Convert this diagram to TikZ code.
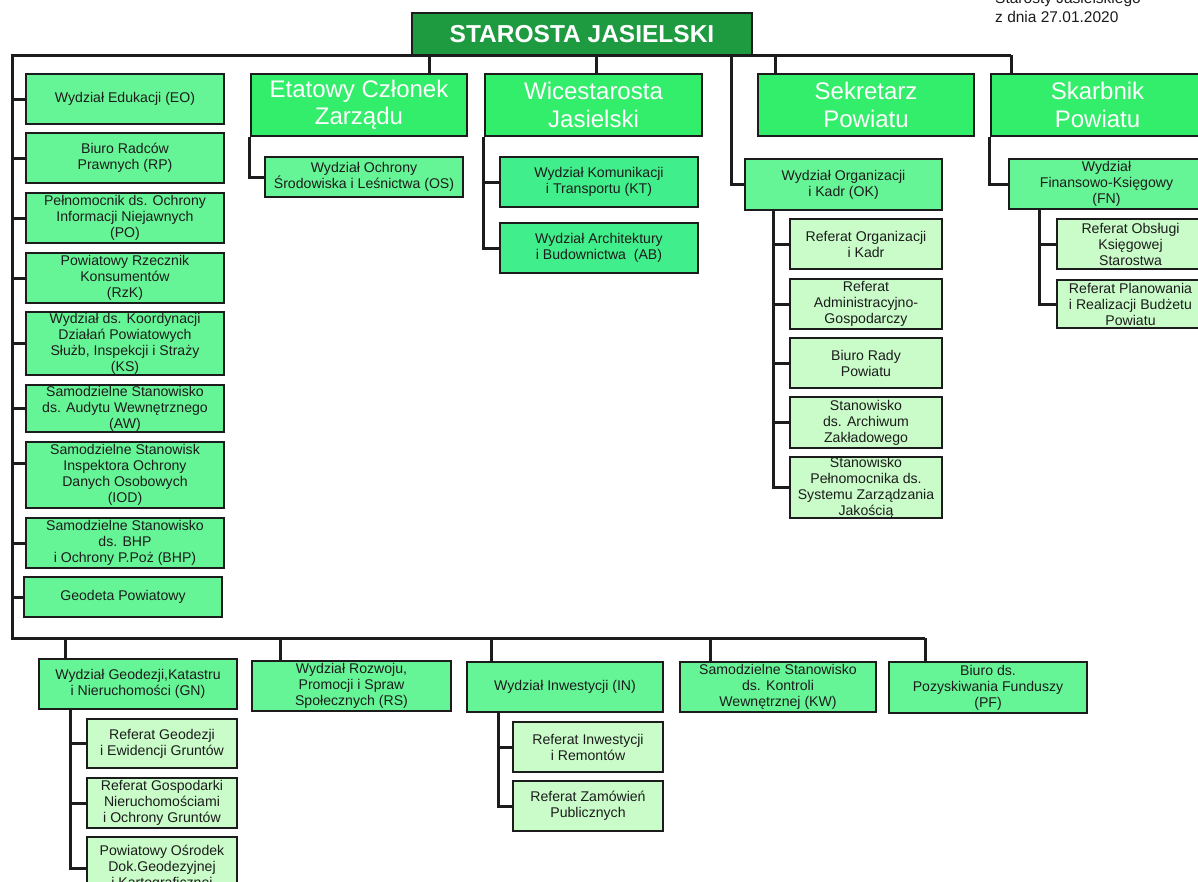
\documentclass[tikz,border=0pt]{standalone}
\usepackage{fontspec}
\setmainfont{Liberation Sans}
\pgfdeclarelayer{background}
\pgfdeclarelayer{paper}
\pgfsetlayers{paper,background,main}
\definecolor{chiefg}{HTML}{1E9A40}
\definecolor{headg}{HTML}{33EE6B}
\definecolor{midg}{HTML}{66F596}
\definecolor{tealg}{HTML}{40EE8C}
\definecolor{liteg}{HTML}{C9FCC9}
\definecolor{ink}{HTML}{1C1C1C}
\newcommand\bx[7]{\node[#2, minimum width={(#5-#3)*1pt}, minimum height={(#6-#4)*1pt}] (#1) at ({(#3+#5)/2},{(#4+#6)/2}) {#7};}
\begin{document}
\begin{tikzpicture}[x=1pt,y=-1pt,
  box/.style={draw=ink, line width=2.6pt, inner sep=0pt, align=center, text=ink, font=\fontsize{14.1}{16}\selectfont},
  mid/.style={box, fill=midg},
  lite/.style={box, fill=liteg},
  teal/.style={box, fill=tealg},
  head/.style={box, fill=headg, text=white, font=\fontsize{24}{27.5}\selectfont},
  chief/.style={box, fill=chiefg, text=white, font=\bfseries\fontsize{24.5}{28}\selectfont},
  conn/.style={draw=ink, line width=3pt, line join=miter},
  note/.style={anchor=base west, inner sep=0pt, text=ink, font=\fontsize{15.5}{18}\selectfont}]
\useasboundingbox (0,0) rectangle (1198,881);
\begin{pgfonlayer}{paper}
\fill[white] (0,0) rectangle (1198,881);
\end{pgfonlayer}

% note
\node[note] (n1) at (995,3) {Starosty Jasielskiego};
\node[note] (n2) at (995,22) {z dnia 27.01.2020};

% chief and heads
\bx{star}{chief}{412}{13}{752}{55}{STAROSTA JASIELSKI}
\bx{etat}{head}{251}{74}{467}{136}{Etatowy Członek\\Zarządu}
\bx{wice}{head}{485}{74}{702}{136}{Wicestarosta\\Jasielski}
\bx{sek}{head}{758}{74}{974}{136}{Sekretarz\\Powiatu}
\bx{skarb}{head}{991}{74}{1204}{136}{Skarbnik\\Powiatu}

% left column
\bx{eo}{mid}{26}{74}{224}{124}{Wydział Edukacji (EO)}
\bx{rp}{mid}{26}{133}{224}{183}{Biuro Radców\\Prawnych (RP)}
\bx{po}{mid}{26}{193}{224}{243}{Pełnomocnik ds. Ochrony\\Informacji Niejawnych\\(PO)}
\bx{rzk}{mid}{26}{253}{224}{303}{Powiatowy Rzecznik\\Konsumentów\\(RzK)}
\bx{ks}{mid}{26}{312}{224}{375}{Wydział ds. Koordynacji\\Działań Powiatowych\\Służb, Inspekcji i Straży\\(KS)}
\bx{aw}{mid}{26}{385}{224}{432}{Samodzielne Stanowisko\\ds. Audytu Wewnętrznego\\(AW)}
\bx{iod}{mid}{26}{442}{224}{508}{Samodzielne Stanowisk\\Inspektora Ochrony\\Danych Osobowych\\(IOD)}
\bx{bhp}{mid}{26}{518}{224}{568}{Samodzielne Stanowisko\\ds. BHP\\i Ochrony P.Poż (BHP)}
\bx{geo}{mid}{24}{577}{222}{617}{Geodeta Powiatowy}

% under heads
\bx{os}{mid}{265}{157}{463}{197}{Wydział Ochrony\\Środowiska i Leśnictwa (OS)}
\bx{kt}{teal}{500}{157}{698}{207}{Wydział Komunikacji\\i Transportu (KT)}
\bx{ab}{teal}{500}{223}{698}{273}{Wydział Architektury\\i Budownictwa~ (AB)}
\bx{ok}{mid}{745}{159}{942}{210}{Wydział Organizacji\\i Kadr (OK)}
\bx{ok1}{lite}{790}{219}{942}{269}{Referat Organizacji\\i Kadr}
\bx{ok2}{lite}{790}{279}{942}{329}{Referat\\Administracyjno-\\Gospodarczy}
\bx{ok3}{lite}{790}{338}{942}{388}{Biuro Rady\\Powiatu}
\bx{ok4}{lite}{790}{397}{942}{448}{Stanowisko\\ds. Archiwum\\Zakładowego}
\bx{ok5}{lite}{790}{457}{942}{518}{Stanowisko\\Pełnomocnika ds.\\Systemu Zarządzania\\Jakością}
\bx{fn}{mid}{1009}{159}{1204}{209}{Wydział\\Finansowo-Księgowy\\(FN)}
\bx{fn1}{lite}{1057}{219}{1204}{269}{Referat Obsługi\\Księgowej\\Starostwa}
\bx{fn2}{lite}{1057}{280}{1204}{328}{Referat Planowania\\i Realizacji Budżetu\\Powiatu}

% bottom row
\bx{gn}{mid}{39}{659}{237}{709}{Wydział Geodezji,Katastru\\i Nieruchomości (GN)}
\bx{gn1}{lite}{87}{719}{237}{768}{Referat Geodezji\\i Ewidencji Gruntów}
\bx{gn2}{lite}{87}{778}{237}{828}{Referat Gospodarki\\Nieruchomościami\\i Ochrony Gruntów}
\bx{gn3}{lite}{87}{837}{237}{899}{Powiatowy Ośrodek\\Dok.Geodezyjnej\\i Kartograficznej}
\bx{rs}{mid}{252}{661}{451}{711}{Wydział Rozwoju,\\Promocji i Spraw\\Społecznych (RS)}
\bx{in}{mid}{467}{662}{663}{712}{Wydział Inwestycji (IN)}
\bx{in1}{lite}{513}{722}{663}{772}{Referat Inwestycji\\i Remontów}
\bx{in2}{lite}{513}{781}{663}{831}{Referat Zamówień\\Publicznych}
\bx{kw}{mid}{680}{662}{876}{712}{Samodzielne Stanowisko\\ds. Kontroli\\Wewnętrznej (KW)}
\bx{pf}{mid}{889}{662}{1087}{713}{Biuro ds.\\Pozyskiwania Funduszy\\(PF)}

% trunk coordinates
\coordinate (L0) at (12,55);
\coordinate (R0) at (1011,55);
\coordinate (Lb) at (12,638);
\coordinate (Rb) at (925,638);
\coordinate (d1) at (429,55);
\coordinate (d2) at (596,55);
\coordinate (d3) at (731,55);
\coordinate (d4) at (775,55);
\coordinate (b1) at (65,638);
\coordinate (b2) at (280,638);
\coordinate (b3) at (491,638);
\coordinate (b4) at (710,638);
\coordinate (okv) at (773,210);
\coordinate (fnv) at (1039,209);
\coordinate (gnv) at (70,709);
\coordinate (inv) at (498,712);

\begin{pgfonlayer}{background}
\draw[conn] (R0) -- (L0) -- (Lb) -- (Rb);
\draw[conn] (d1) -- (d1 |- etat.north);
\draw[conn] (d2) -- (d2 |- wice.north);
\draw[conn] (d4) -- (d4 |- sek.north);
\draw[conn] (R0) -- (R0 |- skarb.north);
\draw[conn] (d3) |- (ok.west);
% left column ticks
\foreach \n in {eo,rp,po,rzk,ks,aw,bhp,geo}
  \draw[conn] (\n.west) -- (\n.west -| L0);
\draw[conn] ([yshift=12pt]iod.west) -- ([yshift=12pt]iod.west -| L0);
% heads to departments
\draw[conn] (etat.south west) |- (os.west);
\draw[conn] (wice.south west) |- (ab.west);
\draw[conn] (kt.west) -- (kt.west -| wice.south west);
\draw[conn] (skarb.south west) |- (fn.west);
% OK children
\draw[conn] (okv) |- (ok5.west);
\foreach \n in {ok1,ok2,ok3,ok4}
  \draw[conn] (\n.west) -- (\n.west -| okv);
% FN children
\draw[conn] (fnv) |- (fn2.west);
\draw[conn] (fn1.west) -- (fn1.west -| fnv);
% bottom drops
\draw[conn] (b1) -- (b1 |- gn.north);
\draw[conn] (b2) -- (b2 |- rs.north);
\draw[conn] (b3) -- (b3 |- in.north);
\draw[conn] (b4) -- (b4 |- kw.north);
\draw[conn] (Rb) -- (Rb |- pf.north);
% GN children
\draw[conn] (gnv) |- (gn3.west);
\foreach \n in {gn1,gn2}
  \draw[conn] (\n.west) -- (\n.west -| gnv);
% IN children
\draw[conn] (inv) |- (in2.west);
\draw[conn] (in1.west) -- (in1.west -| inv);
\end{pgfonlayer}
\end{tikzpicture}
\end{document}
